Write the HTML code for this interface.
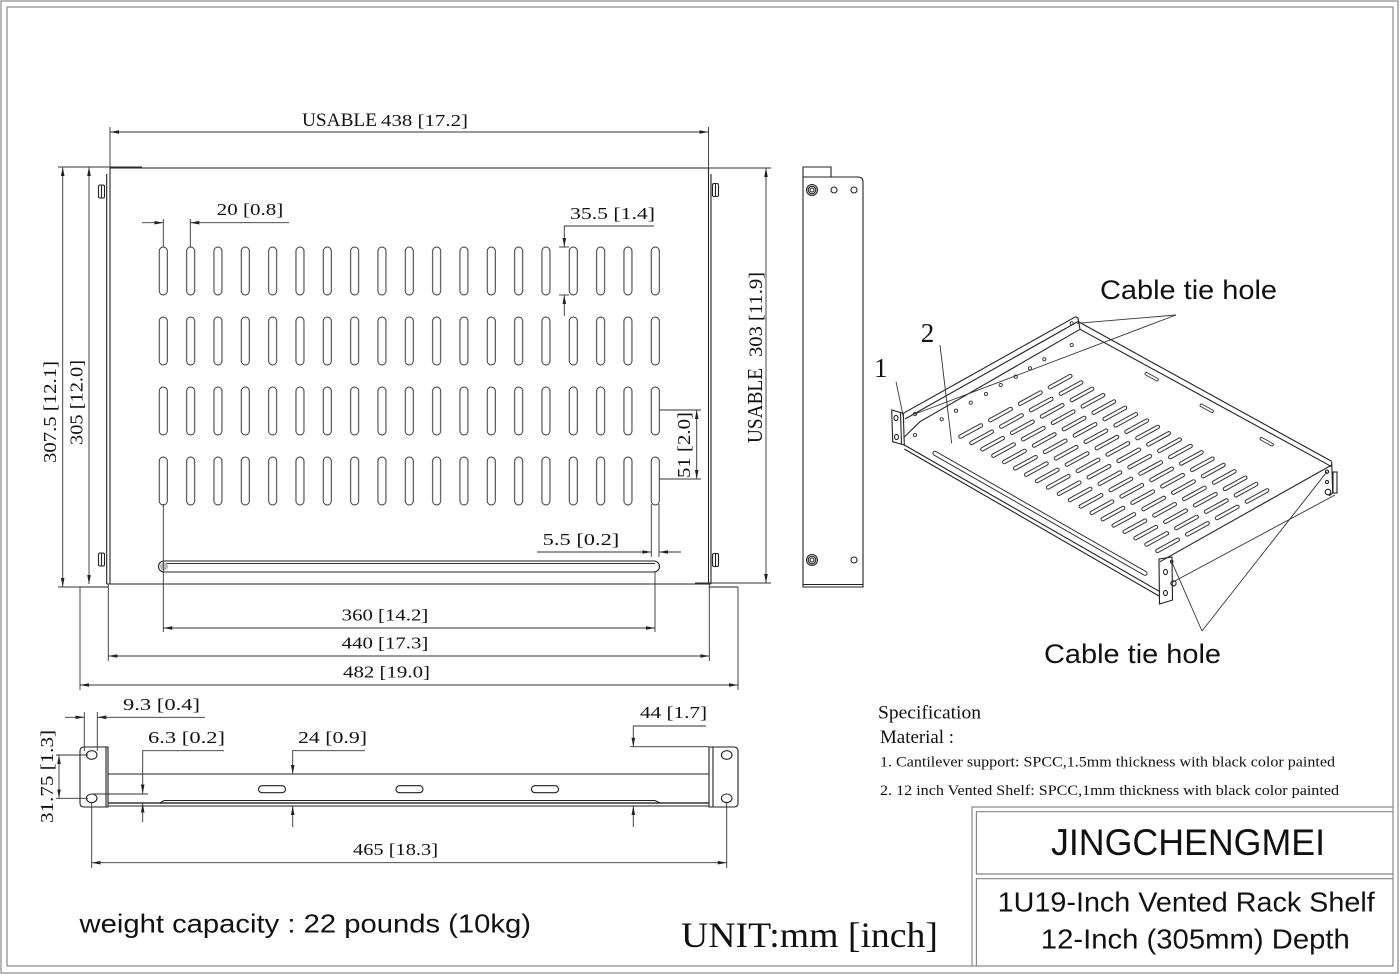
<!DOCTYPE html>
<html><head><meta charset="utf-8"><style>
html,body{margin:0;padding:0;background:#fff;}
svg{display:block;}
.d{stroke:#333;stroke-width:0.9;fill:none;}
.o{stroke:#222;stroke-width:1.1;fill:none;}
.t{font-family:"Liberation Serif",serif;font-size:17px;fill:#111;}
.s{font-family:"Liberation Sans","DejaVu Sans",sans-serif;fill:#111;}
</style></head><body>
<svg width="1400" height="974" viewBox="0 0 1400 974" xmlns="http://www.w3.org/2000/svg">
<defs>
<marker id="a" viewBox="0 0 10 4" refX="10" refY="2" markerWidth="9" markerHeight="3.6" markerUnits="userSpaceOnUse" orient="auto-start-reverse"><path d="M0,0 L10,2 L0,4z" fill="#222"/></marker>
<pattern id="tp" patternUnits="userSpaceOnUse" x="149.63" y="236" width="27.333" height="70"><rect x="9.67" y="11" width="8" height="48" rx="4" fill="none" stroke="#333" stroke-width="1"/></pattern>
<g id="s"><line x1="-10.2" y1="5.6" x2="10.2" y2="-5.6" stroke="#333" stroke-width="4.4" stroke-linecap="round"/><line x1="-10.2" y1="5.6" x2="10.2" y2="-5.6" stroke="#fff" stroke-width="2.4" stroke-linecap="round"/></g>
<g id="row">
<use href="#s" x="0" y="0"/><use href="#s" x="10.94" y="6.35"/><use href="#s" x="21.88" y="12.7"/><use href="#s" x="32.82" y="19.05"/><use href="#s" x="43.76" y="25.4"/><use href="#s" x="54.7" y="31.75"/><use href="#s" x="65.64" y="38.1"/><use href="#s" x="76.58" y="44.45"/><use href="#s" x="87.52" y="50.8"/><use href="#s" x="98.46" y="57.15"/><use href="#s" x="109.4" y="63.5"/><use href="#s" x="120.34" y="69.85"/><use href="#s" x="131.28" y="76.2"/><use href="#s" x="142.22" y="82.55"/><use href="#s" x="153.16" y="88.9"/><use href="#s" x="164.1" y="95.25"/><use href="#s" x="175.04" y="101.6"/><use href="#s" x="185.98" y="107.95"/><use href="#s" x="196.92" y="114.3"/>
</g>
<g id="bs"><line x1="-5.3" y1="-2.9" x2="5.3" y2="2.9" stroke="#333" stroke-width="3.6" stroke-linecap="round"/><line x1="-5.3" y1="-2.9" x2="5.3" y2="2.9" stroke="#fff" stroke-width="1.8" stroke-linecap="round"/></g>
</defs>

<!-- page borders -->
<rect x="1" y="1" width="1397" height="972" fill="none" stroke="#888" stroke-width="1.2"/>
<rect x="7" y="7" width="1386" height="959" fill="none" stroke="#888" stroke-width="1.2"/>

<!-- ===== TOP VIEW ===== -->
<line class="o" x1="110" y1="168" x2="709" y2="168" stroke-width="1.6"/>
<line class="d" x1="58" y1="167" x2="142" y2="167"/>
<line class="d" x1="709" y1="168" x2="771" y2="168"/>
<line class="o" x1="110" y1="168" x2="110" y2="584"/>
<line class="o" x1="106.7" y1="174" x2="106.7" y2="584"/>
<line class="o" x1="708.5" y1="168" x2="708.5" y2="584"/>
<line class="o" x1="711" y1="174" x2="711" y2="584"/>
<line class="o" x1="106.7" y1="584" x2="711" y2="584"/>
<line class="d" x1="695" y1="583" x2="771" y2="583"/>
<!-- ears -->
<line class="o" x1="80" y1="587" x2="108" y2="587"/>
<line class="d" x1="58" y1="587" x2="80" y2="587"/>
<line class="d" x1="80" y1="587" x2="80" y2="690"/>
<line class="o" x1="709" y1="587" x2="738" y2="587"/>
<line class="d" x1="738" y1="587" x2="738" y2="690"/>
<line class="d" x1="108.3" y1="584" x2="108.3" y2="661"/>
<line class="d" x1="709.3" y1="584" x2="709.3" y2="661"/>
<!-- bolts -->
<g class="o">
<rect x="98.5" y="185" width="6" height="13" rx="1.5"/><line x1="101.5" y1="185" x2="101.5" y2="198"/>
<rect x="98.5" y="553" width="6" height="13" rx="1.5"/><line x1="101.5" y1="553" x2="101.5" y2="566"/>
<rect x="712.5" y="183.5" width="6" height="13" rx="1.5"/><line x1="715.5" y1="183.5" x2="715.5" y2="196.5"/>
<rect x="712.5" y="553.5" width="6" height="13" rx="1.5"/><line x1="715.5" y1="553.5" x2="715.5" y2="566.5"/>
</g>
<!-- slots -->
<rect x="149.63" y="236" width="519.33" height="280" fill="url(#tp)"/>
<rect class="o" x="158.5" y="561" width="501" height="11" rx="5.5"/>
<line class="d" x1="163" y1="563.5" x2="655" y2="563.5"/>
<circle cx="164" cy="566.5" r="4" fill="#bbb" stroke="none"/>
<!-- extension lines for slot dims -->
<line class="d" x1="163.3" y1="219" x2="163.3" y2="247"/>
<line class="d" x1="190.3" y1="219" x2="190.3" y2="247"/>
<line class="d" x1="163.3" y1="504" x2="163.3" y2="632"/>
<line class="d" x1="651.3" y1="504" x2="651.3" y2="557"/>
<line class="d" x1="659" y1="504" x2="659" y2="557"/>
<line class="d" x1="655" y1="572" x2="655" y2="632"/>
<line class="d" x1="559" y1="247" x2="569" y2="247"/>
<line class="d" x1="559" y1="295" x2="569" y2="295"/>
<line class="d" x1="659" y1="410" x2="701" y2="410"/>
<line class="d" x1="659" y1="479" x2="701" y2="479"/>
<!-- dims -->
<line class="d" x1="110" y1="127" x2="110" y2="168"/>
<line class="d" x1="708.5" y1="127" x2="708.5" y2="168"/>
<line class="d" x1="110" y1="132" x2="708.5" y2="132" marker-start="url(#a)" marker-end="url(#a)"/>
<line class="d" x1="142" y1="222.7" x2="163.3" y2="222.7" marker-end="url(#a)"/>
<line class="d" x1="289" y1="222.7" x2="190.3" y2="222.7" marker-end="url(#a)"/>
<polyline class="d" points="654,226 564.3,226 564.3,247" marker-end="url(#a)"/>
<line class="d" x1="564.3" y1="316" x2="564.3" y2="295" marker-end="url(#a)"/>
<line class="d" x1="696.7" y1="410" x2="696.7" y2="479" marker-start="url(#a)" marker-end="url(#a)"/>
<line class="d" x1="537" y1="552" x2="651.3" y2="552" marker-end="url(#a)"/>
<line class="d" x1="681" y1="552" x2="659" y2="552" marker-end="url(#a)"/>
<line class="d" x1="766" y1="168" x2="766" y2="583" marker-start="url(#a)" marker-end="url(#a)"/>
<line class="d" x1="62.7" y1="167" x2="62.7" y2="587" marker-start="url(#a)" marker-end="url(#a)"/>
<line class="d" x1="89" y1="167" x2="89" y2="584" marker-start="url(#a)" marker-end="url(#a)"/>
<line class="d" x1="163.3" y1="628" x2="655" y2="628" marker-start="url(#a)" marker-end="url(#a)"/>
<line class="d" x1="108.3" y1="656" x2="709.3" y2="656" marker-start="url(#a)" marker-end="url(#a)"/>
<line class="d" x1="80" y1="685" x2="738" y2="685" marker-start="url(#a)" marker-end="url(#a)"/>
<!-- dim texts -->
<text class="t" x="302" y="126" style="font-size:19px" textLength="75" lengthAdjust="spacingAndGlyphs">USABLE</text>
<text class="t" x="381" y="126" textLength="87" lengthAdjust="spacingAndGlyphs">438 [17.2]</text>
<text class="t" x="216.7" y="215" textLength="66.6" lengthAdjust="spacingAndGlyphs">20 [0.8]</text>
<text class="t" x="570" y="219" textLength="85" lengthAdjust="spacingAndGlyphs">35.5 [1.4]</text>
<text class="t" x="542.7" y="545" textLength="76.6" lengthAdjust="spacingAndGlyphs">5.5 [0.2]</text>
<text class="t" x="341.7" y="620.7" textLength="86.6" lengthAdjust="spacingAndGlyphs">360 [14.2]</text>
<text class="t" x="341.7" y="648.3" textLength="86.6" lengthAdjust="spacingAndGlyphs">440 [17.3]</text>
<text class="t" x="343" y="677.3" textLength="87" lengthAdjust="spacingAndGlyphs">482 [19.0]</text>
<text class="t" transform="translate(56,463) rotate(-90)" style="font-size:18px" textLength="102" lengthAdjust="spacingAndGlyphs">307.5 [12.1]</text>
<text class="t" transform="translate(82.7,445) rotate(-90)" style="font-size:18px" textLength="85" lengthAdjust="spacingAndGlyphs">305 [12.0]</text>
<text class="t" transform="translate(690,478) rotate(-90)" style="font-size:18px" textLength="66" lengthAdjust="spacingAndGlyphs">51 [2.0]</text>
<text class="t" transform="translate(762,443) rotate(-90)" style="font-size:21px" textLength="75" lengthAdjust="spacingAndGlyphs">USABLE</text>
<text class="t" transform="translate(762,357) rotate(-90)" style="font-size:19px" textLength="85" lengthAdjust="spacingAndGlyphs">303 [11.9]</text>

<!-- ===== SIDE VIEW ===== -->
<path class="o" d="M803,587 V177 H858 Q863,177 863,182 V587 Z"/>
<path class="o" d="M803,177 V167 H831 V177"/>
<line class="o" x1="803" y1="584.5" x2="863" y2="584.5"/>
<g class="o">
<circle cx="812" cy="190" r="5.5"/><circle cx="812" cy="190" r="3.8"/><circle cx="812" cy="190" r="2"/>
<circle cx="812" cy="560" r="5.5"/><circle cx="812" cy="560" r="3.8"/><circle cx="812" cy="560" r="2"/>
<circle cx="834" cy="190" r="3"/><circle cx="854" cy="190" r="3"/><circle cx="854" cy="560" r="3"/>
</g>

<!-- ===== FRONT VIEW ===== -->
<path class="o" d="M108,747 H84 Q80,747 80,751 V803 Q80,807 84,807 H108 Z"/>
<line class="o" x1="106" y1="747" x2="106" y2="807"/>
<ellipse class="o" cx="91.7" cy="755" rx="5.3" ry="4.3"/>
<ellipse class="o" cx="91.7" cy="798.3" rx="5.3" ry="4.3"/>
<path class="o" d="M709,747 H734 Q738,747 738,751 V803 Q738,807 734,807 H709 Z"/>
<line class="o" x1="713" y1="747" x2="713" y2="807"/>
<ellipse class="o" cx="726.7" cy="755" rx="5.3" ry="4.3"/>
<ellipse class="o" cx="726.7" cy="798.3" rx="5.3" ry="4.3"/>
<line class="o" x1="108" y1="774" x2="709" y2="774"/>
<line class="o" x1="108" y1="806" x2="709" y2="806"/>
<line x1="108" y1="803" x2="709" y2="803" stroke="#333" stroke-width="1.6"/>
<polyline class="o" points="160,803 164,800.5 655,800.5 660,803"/>
<rect class="o" x="258.5" y="785.7" width="27" height="7" rx="3.5"/>
<rect class="o" x="396" y="785.7" width="27" height="7" rx="3.5"/>
<rect class="o" x="531.5" y="785.7" width="27" height="7" rx="3.5"/>
<!-- front dims -->
<line class="d" x1="84.3" y1="712" x2="84.3" y2="751"/>
<line class="d" x1="97.3" y1="712" x2="97.3" y2="751"/>
<line class="d" x1="65" y1="717.3" x2="84.3" y2="717.3" marker-end="url(#a)"/>
<line class="d" x1="205" y1="717.3" x2="97.3" y2="717.3" marker-end="url(#a)"/>
<polyline class="d" points="224,750.7 142.7,750.7 142.7,793.5" marker-end="url(#a)"/>
<line class="d" x1="93" y1="794" x2="148" y2="794"/>
<line class="d" x1="142.7" y1="822" x2="142.7" y2="803.5" marker-end="url(#a)"/>
<polyline class="d" points="365,750.7 292.7,750.7 292.7,774" marker-end="url(#a)"/>
<line class="d" x1="292.7" y1="827" x2="292.7" y2="806" marker-end="url(#a)"/>
<polyline class="d" points="706,726 633.3,726 633.3,746.7" marker-end="url(#a)"/>
<line class="d" x1="630" y1="746.7" x2="709" y2="746.7"/>
<line class="d" x1="633.3" y1="827" x2="633.3" y2="806" marker-end="url(#a)"/>
<line class="d" x1="56" y1="755" x2="88" y2="755"/>
<line class="d" x1="56" y1="798.3" x2="88" y2="798.3"/>
<line class="d" x1="59" y1="755" x2="59" y2="798.3" marker-start="url(#a)" marker-end="url(#a)"/>
<line class="d" x1="91.7" y1="802" x2="91.7" y2="868"/>
<line class="d" x1="726.7" y1="802" x2="726.7" y2="868"/>
<line class="d" x1="91.7" y1="862.7" x2="726.7" y2="862.7" marker-start="url(#a)" marker-end="url(#a)"/>
<text class="t" x="123" y="710" textLength="77" lengthAdjust="spacingAndGlyphs">9.3 [0.4]</text>
<text class="t" x="148" y="743" textLength="77" lengthAdjust="spacingAndGlyphs">6.3 [0.2]</text>
<text class="t" x="298" y="743" textLength="69" lengthAdjust="spacingAndGlyphs">24 [0.9]</text>
<text class="t" x="640" y="718" textLength="67" lengthAdjust="spacingAndGlyphs">44 [1.7]</text>
<text class="t" x="353" y="855" textLength="85" lengthAdjust="spacingAndGlyphs">465 [18.3]</text>
<text class="t" transform="translate(53,823) rotate(-90)" style="font-size:18px" textLength="93" lengthAdjust="spacingAndGlyphs">31.75 [1.3]</text>

<!-- ===== ISO VIEW ===== -->
<g class="o">
<polygon points="891.7,410 903.3,413.3 904.3,445 892.7,441.7"/>
<line x1="900.5" y1="412.5" x2="901.5" y2="444"/>
<ellipse cx="896" cy="418" rx="2" ry="2.6"/>
<ellipse cx="896.5" cy="437" rx="2" ry="2.6"/>
<line x1="903.3" y1="413.3" x2="1075.7" y2="316.7"/>
<line x1="905" y1="419" x2="1078" y2="321.5"/>
<polyline points="904.3,437 920,421.7 1080,329.3"/>
<polyline points="1075.7,316.7 1078,318 1080,329.3"/>
<line x1="1080" y1="329.3" x2="1331.7" y2="466.7"/>
<line x1="1078" y1="321.5" x2="1332" y2="461.5"/>
<line x1="1160" y1="561.7" x2="1331.7" y2="465"/>
<polyline points="1331.7,462 1332.7,493 1329,496"/>
<rect x="1333" y="472" width="4" height="21"/>
<circle cx="1328" cy="492" r="2.8"/>
<circle cx="1327" cy="471.7" r="1.6"/>
<circle cx="1327" cy="482" r="1.6"/>
<line x1="904.3" y1="445" x2="1160" y2="591.7"/>
<line x1="904.3" y1="449" x2="1159" y2="596"/>
<polygon points="1159,559 1172,557 1172.5,600 1159.5,604"/>
<ellipse cx="1165.5" cy="572" rx="2" ry="2.6"/>
<ellipse cx="1165.5" cy="593" rx="2" ry="2.6"/>
<circle cx="1173.5" cy="583.3" r="2.6"/>
<circle cx="1171.7" cy="561.7" r="1.3"/>
</g>
<g fill="none" stroke="#333" stroke-width="0.9">
<circle cx="915" cy="414" r="1.6"/><circle cx="915" cy="435" r="1.6"/><circle cx="941.7" cy="419.3" r="1.6"/><circle cx="956" cy="410.7" r="1.6"/><circle cx="970.7" cy="402.7" r="1.6"/><circle cx="986" cy="394" r="1.6"/><circle cx="1000.7" cy="385" r="1.6"/><circle cx="1015.7" cy="376.7" r="1.6"/><circle cx="1030" cy="368.3" r="1.6"/><circle cx="1044.3" cy="359.3" r="1.6"/><circle cx="1071.7" cy="345" r="1.6"/><circle cx="1071.7" cy="323.3" r="1.6"/>
</g>
<use href="#bs" x="1151.7" y="376.7"/>
<use href="#bs" x="1206.7" y="408.3"/>
<use href="#bs" x="1266.7" y="441.7"/>
<line x1="935" y1="453.3" x2="1145" y2="573.3" stroke="#333" stroke-width="5" stroke-linecap="round"/>
<line x1="935" y1="453.3" x2="1145" y2="573.3" stroke="#fff" stroke-width="3" stroke-linecap="round"/>
<use href="#row" x="970.7" y="431"/>
<use href="#row" x="1000.5" y="414.57"/>
<use href="#row" x="1030.3" y="398.14"/>
<use href="#row" x="1060.1" y="381.71"/>
<!-- leaders -->
<g class="d">
<line x1="1176" y1="315" x2="1077" y2="323.3"/>
<line x1="1176" y1="315" x2="915" y2="414"/>
<line x1="896" y1="381.7" x2="903.3" y2="416.7"/>
<line x1="940" y1="345" x2="951.7" y2="443.3"/>
<line x1="1202" y1="631" x2="1171.7" y2="561.7"/>
<line x1="1202" y1="631" x2="1327" y2="471.7"/>
<line x1="1173" y1="582" x2="1335" y2="495"/>
</g>
<text class="s" x="1100" y="299" font-size="27" textLength="177" lengthAdjust="spacingAndGlyphs">Cable tie hole</text>
<text class="s" x="1044" y="663" font-size="27" textLength="177" lengthAdjust="spacingAndGlyphs">Cable tie hole</text>
<text class="t" x="874" y="377" style="font-size:27px">1</text>
<text class="t" x="920.7" y="342" style="font-size:27px">2</text>

<!-- ===== SPEC ===== -->
<text class="t" x="878" y="718.3" style="font-size:19px" textLength="103" lengthAdjust="spacingAndGlyphs">Specification</text>
<text class="t" x="880" y="743" style="font-size:19px" textLength="74" lengthAdjust="spacingAndGlyphs">Material :</text>
<text class="t" x="880" y="766.7" style="font-size:14.5px" textLength="455" lengthAdjust="spacingAndGlyphs">1.  Cantilever support: SPCC,1.5mm thickness with black color painted</text>
<text class="t" x="880" y="795" style="font-size:14.5px" textLength="459" lengthAdjust="spacingAndGlyphs">2.  12 inch Vented Shelf: SPCC,1mm thickness with black color painted</text>

<!-- ===== TITLE BLOCK ===== -->
<g stroke="#888" stroke-width="1.2" fill="none">
<polyline points="972,966 972,807 1393,807"/>
<polyline points="1393,811.7 976.4,811.7 976.4,874 1393,874"/>
<polyline points="1393,878.7 976.4,878.7 976.4,966"/>
</g>
<text class="s" x="1051" y="855" font-size="37" textLength="274" lengthAdjust="spacingAndGlyphs">JINGCHENGMEI</text>
<text class="s" x="997.7" y="911.7" font-size="27.5" textLength="377" lengthAdjust="spacingAndGlyphs">1U19-Inch Vented Rack Shelf</text>
<text class="s" x="1040.8" y="948.3" font-size="27.5" textLength="309" lengthAdjust="spacingAndGlyphs">12-Inch (305mm) Depth</text>
<text class="s" x="79.5" y="932.7" font-size="26" textLength="451.5" lengthAdjust="spacingAndGlyphs">weight capacity : 22 pounds (10kg)</text>
<text class="t" x="681" y="947" style="font-size:36px" textLength="257" lengthAdjust="spacingAndGlyphs">UNIT:mm [inch]</text>
</svg>
</body></html>
